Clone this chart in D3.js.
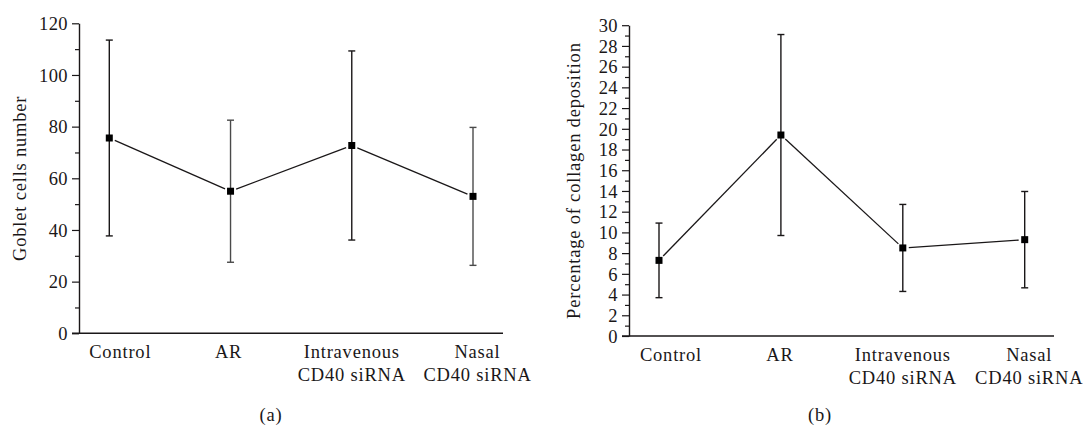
<!DOCTYPE html>
<html>
<head>
<meta charset="utf-8">
<script src="https://cdn.jsdelivr.net/npm/d3@7"></script>
<style>
  body { margin: 0; background: #fff; }
  text { font-family: "Liberation Serif", "DejaVu Serif", serif; fill: #1a1718; letter-spacing: 0.8px; }
</style>
</head>
<body>
<div id="chart"></div>
<script>
// categorias (cada una en una o dos lineas)
const categoryLines = [["Control"], ["AR"], ["Intravenous", "CD40 siRNA"], ["Nasal", "CD40 siRNA"]];
const categories = ["Control", "AR", "Intravenous CD40 siRNA", "Nasal CD40 siRNA"];

// panel (a): celulas caliciformes
const gobletMeans = [75.6, 55.0, 72.7, 53.0];
const gobletErrors = [37.9, 27.5, 36.6, 26.7];
const gobletTicks = [0, 20, 40, 60, 80, 100, 120];
const gobletMinor = [10, 30, 50, 70, 90, 110];

// panel (b): deposicion de colageno
const collagenMeans = [7.3, 19.4, 8.5, 9.3];
const collagenErrors = [3.6, 9.7, 4.2, 4.65];
const collagenTicks = [0, 2, 4, 6, 8, 10, 12, 14, 16, 18, 20, 22, 24, 26, 28, 30];
const collagenMinor = [1, 3, 5, 7, 9, 11, 13, 15, 17, 19, 21, 23, 25, 27, 29];

const W = 1086, H = 428;
const ink = "#1a1718";
const fontSize = "18.5px";

const svg = d3.select("#chart").append("svg")
    .attr("width", W)
    .attr("height", H);

svg.append("rect").attr("width", W).attr("height", H).attr("fill", "#fff");

function drawPanel(opt) {
    const g = svg.append("g");

    const y = d3.scaleLinear()
        .domain([0, opt.max])
        .range([opt.bottom, opt.top]);

    const x = d3.scalePoint()
        .domain(categories)
        .range([opt.firstX, opt.lastX]);

    // eje y: marcas mayores con etiquetas
    const yAxis = g.append("g")
        .attr("transform", `translate(${opt.axisX},0)`)
        .call(d3.axisLeft(y).tickValues(opt.ticks).tickSize(7).tickPadding(4).tickSizeOuter(0));
    yAxis.select(".domain").attr("stroke", ink).attr("stroke-width", 1.4);
    yAxis.selectAll(".tick line").attr("stroke", ink).attr("stroke-width", 1.2);
    yAxis.selectAll(".tick text")
        .style("font-size", fontSize)
        .style("font-family", "'Liberation Serif', serif")
        .style("letter-spacing", "0.4px")
        .attr("dy", "0.34em")
        .attr("fill", ink);

    // marcas menores
    const yMinor = g.append("g")
        .attr("transform", `translate(${opt.axisX},0)`)
        .call(d3.axisLeft(y).tickValues(opt.minor).tickSize(4).tickFormat(""));
    yMinor.select(".domain").remove();
    yMinor.selectAll(".tick line").attr("stroke", ink).attr("stroke-width", 1.2);

    // eje x (solo linea)
    g.append("line")
        .attr("x1", opt.axisX - 7)
        .attr("x2", opt.right)
        .attr("y1", y(0))
        .attr("y2", y(0))
        .attr("stroke", ink)
        .attr("stroke-width", 1.4);

    // etiquetas de categoria (algo desplazadas respecto a los puntos, como en el original)
    const labels = g.append("g").selectAll("text")
        .data(categories)
        .enter()
        .append("text")
        .attr("y", y(0) + 25)
        .attr("text-anchor", "middle")
        .style("font-size", fontSize);
    labels.each(function (d, i) {
        const lx = x(d) + opt.labelShift[i];
        categoryLines[i].forEach((line, k) => {
            d3.select(this).append("tspan")
                .attr("x", lx)
                .attr("dy", k === 0 ? 0 : 23)
                .text(line);
        });
    });

    // titulo eje y
    g.append("text")
        .attr("transform", `translate(${opt.titleX},${(opt.top + opt.bottom) / 2}) rotate(-90)`)
        .attr("text-anchor", "middle")
        .attr("dy", "0.35em")
        .style("font-size", fontSize)
        .text(opt.title);

    // pie (a)/(b)
    g.append("text")
        .attr("x", opt.captionX)
        .attr("y", 421)
        .attr("text-anchor", "middle")
        .style("font-size", fontSize)
        .text(opt.caption);

    const data = categories.map((c, i) => ({ c: c, m: opt.means[i], e: opt.errors[i] }));

    // lineas entre puntos, recortadas cerca de los marcadores
    const gap = 6;
    for (let i = 0; i < data.length - 1; i++) {
        const x1 = x(data[i].c), y1 = y(data[i].m);
        const x2 = x(data[i + 1].c), y2 = y(data[i + 1].m);
        const len = Math.hypot(x2 - x1, y2 - y1);
        const ux = (x2 - x1) / len, uy = (y2 - y1) / len;
        g.append("line")
            .attr("x1", x1 + ux * gap).attr("y1", y1 + uy * gap)
            .attr("x2", x2 - ux * gap).attr("y2", y2 - uy * gap)
            .attr("stroke", ink)
            .attr("stroke-width", 1.3);
    }

    // barras de error
    const bars = g.append("g").selectAll("g")
        .data(data)
        .enter()
        .append("g")
        .attr("stroke", (d, i) => opt.barColors[i])
        .attr("stroke-width", 1.4);
    bars.append("line")
        .attr("x1", d => x(d.c)).attr("x2", d => x(d.c))
        .attr("y1", d => y(d.m + d.e)).attr("y2", d => y(d.m - d.e));
    bars.append("line")
        .attr("x1", d => x(d.c) - 3.5).attr("x2", d => x(d.c) + 3.5)
        .attr("y1", d => y(d.m + d.e)).attr("y2", d => y(d.m + d.e));
    bars.append("line")
        .attr("x1", d => x(d.c) - 3.5).attr("x2", d => x(d.c) + 3.5)
        .attr("y1", d => y(d.m - d.e)).attr("y2", d => y(d.m - d.e));

    // marcadores cuadrados
    g.append("g").selectAll("rect")
        .data(data)
        .enter()
        .append("rect")
        .attr("x", d => x(d.c) - 3.5)
        .attr("y", d => y(d.m) - 3.5)
        .attr("width", 7)
        .attr("height", 7)
        .attr("fill", "#000");
}

drawPanel({
    max: 120, top: 23.3, bottom: 333.3,
    axisX: 79, right: 503, firstX: 109.3, lastX: 473,
    ticks: gobletTicks, minor: gobletMinor,
    means: gobletMeans, errors: gobletErrors,
    barColors: [ink, "#4a4a4a", ink, "#4a4a4a"],
    labelShift: [11, -2, 0, 4.5],
    title: "Goblet cells number", titleX: 20,
    caption: "(a)", captionX: 271
});

drawPanel({
    max: 30, top: 25.2, bottom: 336,
    axisX: 629, right: 1054, firstX: 659, lastX: 1024.7,
    ticks: collagenTicks, minor: collagenMinor,
    means: collagenMeans, errors: collagenErrors,
    barColors: [ink, ink, ink, ink],
    labelShift: [12, -1, 0, 4.5],
    title: "Percentage of collagen deposition", titleX: 574,
    caption: "(b)", captionX: 820
});
</script>
</body>
</html>
